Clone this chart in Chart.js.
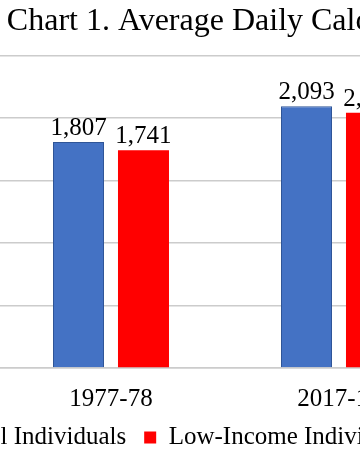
<!DOCTYPE html>
<html>
<head>
<meta charset="utf-8">
<script src="https://cdn.jsdelivr.net/npm/chart.js@4.4.1/dist/chart.umd.min.js"></script>
<style>
  html, body { margin: 0; padding: 0; background: #fff; overflow: hidden; }
  #wrap { position: absolute; left: -67px; top: 0; width: 634px; height: 458px; }
</style>
</head>
<body>
<div id="wrap"><canvas id="calChart" width="634" height="458"></canvas></div>
<script>
const periods = ["1977-78", "2017-18"];
const allIndividuals = [1807, 2093];
const lowIncome = [1741, 2042];
const yTicks = [0, 500, 1000, 1500, 2000, 2500];

const serif = "'Liberation Serif', 'Times New Roman', serif";

// draws the value above each bar
const valueLabels = {
  id: "valueLabels",
  afterDatasetsDraw(chart) {
    const ctx = chart.ctx;
    ctx.save();
    ctx.font = "25px " + serif;
    ctx.fillStyle = "#000";
    ctx.textAlign = "center";
    ctx.textBaseline = "alphabetic";
    chart.data.datasets.forEach((ds, i) => {
      chart.getDatasetMeta(i).data.forEach((bar, j) => {
        ctx.fillText(ds.data[j].toLocaleString("en-US"), bar.x, bar.y - 7);
      });
    });
    ctx.restore();
  }
};

const ctx = document.getElementById("calChart").getContext("2d");
new Chart(ctx, {
  type: "bar",
  data: {
    labels: periods,
    datasets: [
      {
        label: "All Individuals",
        data: allIndividuals,
        backgroundColor: "#4472C4",
        borderColor: "#2F5597",
        borderWidth: 1,
        categoryPercentage: 0.57,
        barPercentage: 0.785
      },
      {
        label: "Low-Income Individuals",
        data: lowIncome,
        backgroundColor: "#FF0000",
        borderColor: "#FF0000",
        borderWidth: 0,
        categoryPercentage: 0.57,
        barPercentage: 0.785
      }
    ]
  },
  options: {
    responsive: false,
    animation: false,
    layout: { padding: { bottom: -2 } },
    scales: {
      x: {
        afterFit(scale) { scale.height = 39; },
        grid: { display: false, drawTicks: false },
        border: { color: "#cccccc", width: 1.5 },
        // mirror + negative padding keeps the labels below the axis without clipping
        ticks: { color: "#000", font: { family: serif, size: 25 }, mirror: true, padding: -46 }
      },
      y: {
        min: 0,
        max: 2500,
        afterBuildTicks(scale) {
          scale.ticks = yTicks.map(v => ({ value: v }));
        },
        afterFit(scale) { scale.width = 64; },
        grid: { color: "#cccccc", lineWidth: 1.5, drawTicks: false },
        border: { display: false },
        ticks: { display: false }
      },
      y2: {
        position: "right",
        display: true,
        afterFit(scale) { scale.width = 114; },
        grid: { display: false, drawTicks: false },
        border: { display: false },
        ticks: { display: false }
      }
    },
    plugins: {
      title: {
        display: true,
        text: "Chart 1. Average Daily Calorie Intake",
        color: "#000",
        font: { family: serif, size: 32, weight: "normal" },
        padding: { top: 2, bottom: 15 }
      },
      legend: {
        position: "bottom",
        align: "start",
        labels: {
          color: "#000",
          boxWidth: 12,
          boxHeight: 12,
          padding: 18,
          font: { family: serif, size: 25 }
        }
      },
      tooltip: { enabled: false }
    }
  },
  plugins: [valueLabels]
});
</script>
</body>
</html>
